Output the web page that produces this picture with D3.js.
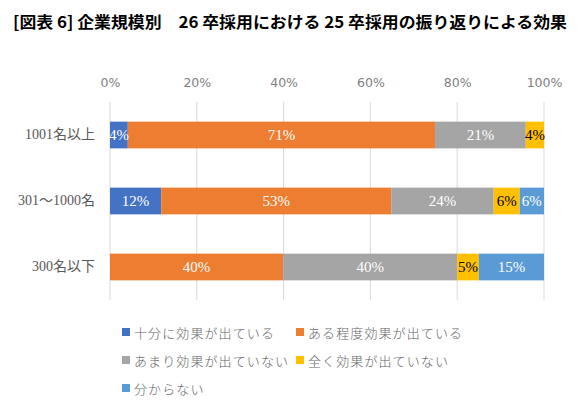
<!DOCTYPE html>
<html><head><meta charset="utf-8">
<script src="https://cdn.jsdelivr.net/npm/d3@7"></script>
<style>
html,body{margin:0;padding:0;background:#fff;}
svg{display:block;}
</style></head>
<body>
<svg id="chart" width="585" height="406"></svg>
<script>
const titleText = "[図表 6] 企業規模別　26 卒採用における 25 卒採用の振り返りによる効果";
const categories = ["1001名以上", "301～1000名", "300名以下"];
const seriesNames = ["十分に効果が出ている", "ある程度効果が出ている", "あまり効果が出ていない", "全く効果が出ていない", "分からない"];
const seriesColors = ["#4472C4", "#ED7D31", "#A5A5A5", "#FFC000", "#5B9BD5"];
const s1 = [4.1, 11.8, 0];
const s2 = [70.8, 53.0, 39.9];
const s3 = [20.9, 23.6, 40.1];
const s4 = [4.2, 6.0, 5.0];
const s5 = [0, 5.6, 15.0];
const seriesValues = [s1, s2, s3, s4, s5];
const tickValues = [0, 20, 40, 60, 80, 100];

const svg = d3.select("#chart");
const serif = "'Liberation Serif','Noto Sans CJK JP',serif";
const cjk = "'Noto Sans CJK JP',sans-serif";

// title
svg.append("text")
  .attr("x", 13).attr("y", 21)
  .attr("dominant-baseline", "central")
  .attr("font-family", cjk).attr("font-weight", "bold")
  .attr("font-size", 16).attr("fill", "#000")
  .attr("textLength", 554).attr("lengthAdjust", "spacingAndGlyphs")
  .text(titleText);

const rows = categories.map((c, i) => {
  const r = {cat: c};
  seriesNames.forEach((s, j) => r[s] = seriesValues[j][i]);
  return r;
});
const stacked = d3.stack().keys(seriesNames)(rows);

const x = d3.scaleLinear().domain([0, 100]).range([110, 544]);
const y = d3.scaleBand().domain(categories).range([102, 300]).paddingInner(0.595).paddingOuter(0.2975);

// gridlines
svg.append("g").selectAll("line").data(tickValues).join("line")
  .attr("x1", d => x(d)).attr("x2", d => x(d))
  .attr("y1", 102).attr("y2", 300)
  .attr("stroke", "#d9d9d9").attr("stroke-width", 1);

// top axis labels
const axis = d3.axisTop(x).tickValues(tickValues).tickFormat(d => d + "%").tickSize(0).tickPadding(0);
const ag = svg.append("g").attr("transform", "translate(0,87)").call(axis);
ag.select(".domain").remove();
ag.selectAll("text").attr("font-family", "'DejaVu Sans',sans-serif").attr("font-size", 12.5).attr("fill", "#808080");

// category labels
const yl = d3.axisLeft(y).tickSize(0).tickPadding(0);
const yg = svg.append("g").attr("transform", "translate(95,0)").call(yl);
yg.select(".domain").remove();
yg.selectAll("text").attr("font-family", serif).attr("font-size", 14).attr("fill", "#595959");

// bars
const gs = svg.append("g").selectAll("g").data(stacked).join("g")
  .attr("fill", (d, i) => seriesColors[i]);
gs.selectAll("rect").data(d => d).join("rect")
  .attr("x", d => x(d[0])).attr("width", d => x(d[1]) - x(d[0]))
  .attr("y", d => y(d.data.cat)).attr("height", y.bandwidth());

// data labels
stacked.forEach((layer, i) => {
  svg.append("g").selectAll("text").data(layer.filter(d => d[1] - d[0] > 0)).join("text")
    .attr("x", d => x((d[0] + d[1]) / 2))
    .attr("y", d => y(d.data.cat) + y.bandwidth() / 2)
    .attr("text-anchor", "middle").attr("dominant-baseline", "central")
    .attr("font-family", serif).attr("font-size", 15)
    .attr("fill", i === 3 ? "#000" : "#fff")
    .text(d => Math.round(d[1] - d[0]) + "%");
});

// legend
const legendPos = [[122, 332], [296, 332], [122, 360], [296, 360], [122, 388]];
const lg = svg.append("g").selectAll("g").data(seriesNames).join("g")
  .attr("transform", (d, i) => `translate(${legendPos[i][0]},${legendPos[i][1]})`);
lg.append("rect").attr("x", 0).attr("y", -4).attr("width", 8).attr("height", 8)
  .attr("fill", (d, i) => seriesColors[i]);
lg.append("text").attr("x", 12).attr("y", 0).attr("dominant-baseline", "central")
  .attr("font-family", cjk).attr("font-size", 13).attr("letter-spacing", 1.1)
  .attr("font-weight", 300)
  .attr("fill", "#666").text(d => d);
</script>
</body></html>
